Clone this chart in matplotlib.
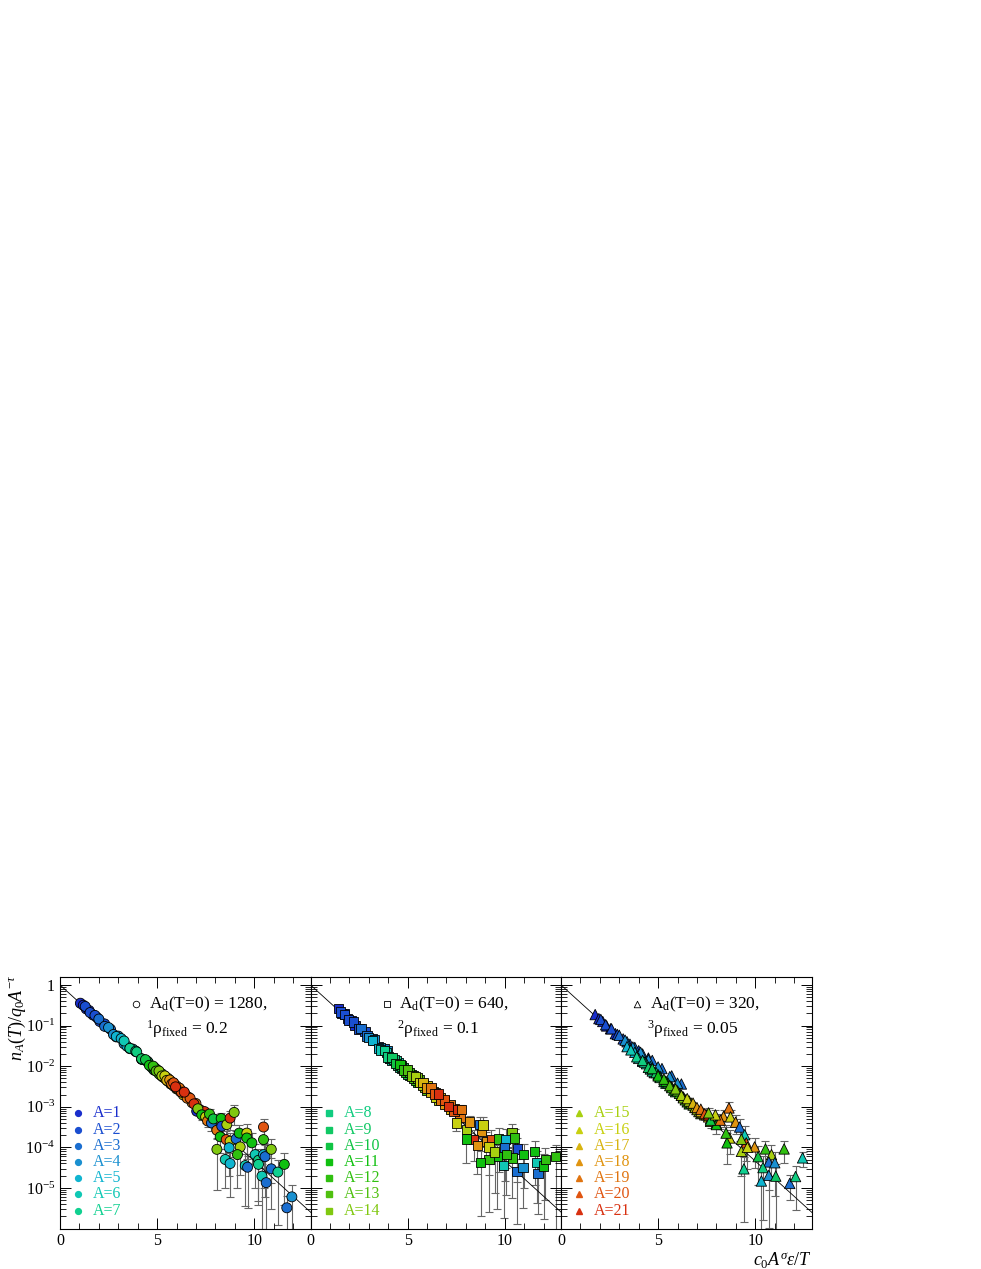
import numpy as np
import matplotlib
matplotlib.use("Agg")
from matplotlib import pyplot as plt
from matplotlib.ticker import MultipleLocator, LogLocator, NullFormatter, FixedLocator

plt.rcParams['font.family'] = ['Liberation Serif', 'DejaVu Serif']
plt.rcParams['mathtext.fontset'] = 'custom'
plt.rcParams['mathtext.rm'] = 'Liberation Serif'
plt.rcParams['mathtext.it'] = 'Liberation Serif:italic'
plt.rcParams['mathtext.bf'] = 'Liberation Serif:bold'

# colours for cluster size A = 1..21
a_colors = ['#1a2ecc', '#1a4ed0', '#1a6ed0', '#1a90d0', '#10b4d0', '#10c8b4', '#10d090',
            '#10cc80', '#10c864', '#10c444', '#10c010', '#30c010', '#50c010', '#80c810',
            '#a8d010', '#c8d010', '#d8b410', '#e09410', '#e07410', '#e05410', '#d83010']

# straight reference line (log scale)
fit_x = [0.0, 13.0]
fit_y = [1.0, 2.3e-6]

# ---- panel 1 : A_d(T=0)=1280, circles ----
p1_band_x = [1.05, 1.2, 1.35, 1.5, 1.7, 1.9, 5.84, 7.04,
             1.3, 1.55, 1.8, 2.05, 2.3,
             2.0, 2.3, 2.6, 2.9,
             2.5, 2.75, 3.0, 3.3,
             2.9, 3.15, 3.45, 3.75,
             3.3, 3.6, 3.9, 4.2,
             3.6, 3.9, 4.2, 4.5,
             3.95, 4.25, 4.55, 4.85,
             4.2, 4.5, 4.8, 5.1,
             4.4, 4.7, 5.0, 5.3,
             4.6, 4.9, 5.2, 5.5,
             4.8, 5.1, 5.4, 5.7,
             4.95, 5.25, 5.55, 5.85,
             5.1, 5.4, 5.7, 6.0,
             5.25, 5.55, 5.85, 6.2,
             5.4, 5.7, 6.0, 6.35,
             5.5, 5.85, 6.2, 6.6,
             5.65, 6.0, 6.4, 6.8,
             5.75, 6.15, 6.55, 7.0,
             5.85, 6.25, 6.7, 7.2,
             5.95, 6.4, 6.9, 7.45]
p1_band_logy = [-0.45, -0.50, -0.59, -0.63, -0.74, -0.80, -2.42, -3.11,
                -0.53, -0.68, -0.75, -0.90, -0.96,
                -0.84, -1.02, -1.09, -1.28,
                -1.05, -1.22, -1.26, -1.45,
                -1.27, -1.32, -1.51, -1.58,
                -1.38, -1.57, -1.64, -1.83,
                -1.56, -1.63, -1.82, -1.89,
                -1.65, -1.84, -1.91, -2.10,
                -1.82, -1.88, -2.07, -2.14,
                -1.84, -2.02, -2.09, -2.27,
                -1.98, -2.05, -2.23, -2.30,
                -2.00, -2.19, -2.25, -2.44,
                -2.12, -2.19, -2.37, -2.44,
                -2.12, -2.30, -2.37, -2.56,
                -2.24, -2.30, -2.49, -2.58,
                -2.24, -2.42, -2.49, -2.71,
                -2.35, -2.43, -2.63, -2.76,
                -2.34, -2.54, -2.66, -2.90,
                -2.44, -2.54, -2.79, -2.92,
                -2.41, -2.64, -2.79, -3.07,
                -2.51, -2.64, -2.93, -3.12]
p1_band_a = [1, 1, 1, 1, 1, 1, 1, 1,
             2, 2, 2, 2, 2,
             3, 3, 3, 3,
             4, 4, 4, 4,
             5, 5, 5, 5,
             6, 6, 6, 6,
             7, 7, 7, 7,
             8, 8, 8, 8,
             9, 9, 9, 9,
             10, 10, 10, 10,
             11, 11, 11, 11,
             12, 12, 12, 12,
             13, 13, 13, 13,
             14, 14, 14, 14,
             15, 15, 15, 15,
             16, 16, 16, 16,
             17, 17, 17, 17,
             18, 18, 18, 18,
             19, 19, 19, 19,
             20, 20, 20, 20,
             21, 21, 21, 21]
p1_err_x = [7.1, 7.3, 7.5, 7.6, 7.7, 7.8, 7.9, 8.08, 8.3, 8.33, 8.59, 8.76, 8.97,
            8.25, 8.56, 8.76, 9.07, 8.08, 8.71, 8.51, 8.76, 9.23, 9.62, 9.62, 9.88,
            9.28, 9.14, 9.54, 9.66, 10.05, 10.22, 10.22, 10.48, 10.48, 10.48, 10.56,
            10.88, 10.88, 10.40, 10.62, 11.22, 11.55, 11.94, 11.68]
p1_err_logy = [-3.05, -3.20, -3.25, -3.35, -3.18, -3.40, -3.30, -3.58, -3.29, -3.48, -3.44,
               -3.28, -3.14, -3.74, -3.81, -3.85, -3.79, -4.05, -4.01, -4.30, -4.40, -3.65,
               -3.65, -3.77, -3.89, -3.99, -4.18, -4.45, -4.49, -4.18, -4.32, -4.42, -3.50,
               -3.81, -4.18, -4.23, -4.05, -4.53, -4.71, -4.87, -4.61, -4.42, -5.22, -5.49]
p1_err_a = [14, 11, 16, 19, 12, 3, 10, 19, 11, 2, 15, 21, 14,
            11, 20, 16, 3, 14, 5, 6, 5, 11, 16, 11, 11,
            15, 12, 6, 3, 6, 8, 7, 20, 12, 5, 3,
            14, 3, 6, 3, 7, 11, 4, 3]
p1_err_rel = [0.2, 0.25, 0.3, 0.3, 0.3, 0.35, 0.35, 0.4, 0.4, 0.45, 0.5, 0.5, 0.5,
              0.6, 0.6, 0.6, 0.6, 0.9, 0.8, 0.8, 0.85, 0.6, 0.7, 0.7, 0.7,
              0.8, 0.85, 0.9, 0.9, 0.85, 0.9, 0.9, 0.6, 0.8, 0.85, 0.9,
              0.85, 0.9, 0.95, 0.95, 0.95, 0.9, 0.95, 0.99]

# ---- panel 2 : A_d(T=0)=640, squares ----
p2_band_x = [1.45, 1.6, 1.75, 1.9, 2.1, 2.3,
             1.55, 1.75, 1.95, 2.2, 2.5, 2.8,
             2.6, 2.9, 3.2, 3.5, 3.8,
             3.0, 3.3, 3.6, 3.95,
             3.2, 3.5, 3.8, 4.1,
             3.6, 3.9, 4.2, 4.5,
             3.8, 4.1, 4.4, 4.7,
             4.0, 4.3, 4.6, 4.9,
             4.2, 4.5, 4.8, 5.1,
             4.4, 4.7, 5.0, 5.3,
             4.6, 4.9, 5.2, 5.5,
             4.8, 5.1, 5.4, 5.8,
             5.0, 5.3, 5.6, 6.0,
             5.2, 5.5, 5.9, 6.3,
             5.4, 5.8, 6.2, 6.6,
             5.6, 6.0, 6.45, 6.9,
             5.8, 6.2, 6.7, 7.2,
             6.0, 6.45, 6.9, 7.4,
             6.2, 6.7, 7.2, 7.7,
             6.4, 6.9, 7.4,
             6.6, 7.1, 7.6]
p2_band_logy = [-0.58, -0.70, -0.72, -0.83, -0.87, -1.00,
                -0.67, -0.73, -0.86, -0.91, -1.09, -1.15,
                -1.07, -1.26, -1.33, -1.52, -1.58,
                -1.29, -1.36, -1.55, -1.62,
                -1.37, -1.56, -1.61, -1.80,
                -1.60, -1.66, -1.86, -1.91,
                -1.62, -1.81, -1.87, -2.05,
                -1.77, -1.83, -2.03, -2.08,
                -1.79, -1.99, -2.04, -2.23,
                -1.94, -2.00, -2.19, -2.24,
                -1.96, -2.15, -2.20, -2.40,
                -2.10, -2.15, -2.35, -2.45,
                -2.10, -2.29, -2.34, -2.59,
                -2.24, -2.29, -2.53, -2.62,
                -2.25, -2.48, -2.58, -2.83,
                -2.40, -2.48, -2.76, -2.86,
                -2.40, -2.64, -2.78, -3.07,
                -2.54, -2.66, -2.94, -3.06,
                -2.54, -2.84, -2.96, -3.26,
                -2.69, -2.83, -3.12,
                -2.69, -2.99, -3.07]
p2_band_a = [1, 1, 1, 1, 1, 1,
             2, 2, 2, 2, 2, 2,
             3, 3, 3, 3, 3,
             4, 4, 4, 4,
             5, 5, 5, 5,
             6, 6, 6, 6,
             7, 7, 7, 7,
             8, 8, 8, 8,
             9, 9, 9, 9,
             10, 10, 10, 10,
             11, 11, 11, 11,
             12, 12, 12, 12,
             13, 13, 13, 13,
             14, 14, 14, 14,
             15, 15, 15, 15,
             16, 16, 16, 16,
             17, 17, 17, 17,
             18, 18, 18, 18,
             19, 19, 19, 19,
             20, 20, 20,
             21, 21, 21]
p2_err_x = [7.77, 8.02, 7.51, 8.20, 8.80, 8.40, 9.06, 9.31, 8.59, 9.19, 8.02, 8.71, 8.88,
            9.69, 10.38, 10.52, 10.05, 10.00, 10.65, 10.98, 10.40, 10.09, 9.60, 9.19,
            8.76, 9.95, 9.48, 10.64, 10.94, 11.55, 11.67, 11.72, 12.01, 12.10, 12.63]
p2_err_logy = [-3.07, -3.56, -3.40, -3.38, -3.60, -3.81, -3.85, -3.81, -3.96, -3.99, -3.79,
               -3.44, -3.45, -3.79, -3.63, -3.77, -3.81, -4.01, -4.04, -4.18, -4.26, -4.18,
               -4.23, -4.30, -4.38, -4.45, -4.12, -4.59, -4.50, -4.10, -4.38, -4.65, -4.46,
               -4.30, -4.23]
p2_err_a = [19, 15, 16, 18, 18, 21, 18, 20, 18, 16, 11, 3, 16,
            12, 14, 12, 5, 3, 2, 11, 12, 12, 11, 12,
            11, 6, 15, 3, 4, 11, 6, 3, 11, 12, 12]
p2_err_rel = [0.3, 0.45, 0.35, 0.45, 0.6, 0.7, 0.7, 0.75, 0.8, 0.8, 0.75, 0.5, 0.55,
              0.85, 0.6, 0.7, 0.8, 0.85, 0.85, 0.85, 0.9, 0.9, 0.95, 0.95,
              0.95, 0.95, 0.9, 0.95, 0.9, 0.85, 0.9, 0.9, 0.95, 0.9, 0.99]

# ---- panel 3 : A_d(T=0)=320, triangles ----
p3_band_x = [1.76, 1.95, 2.15, 2.35, 2.55, 2.8,
             2.05, 2.3, 2.6, 2.9, 3.2, 3.55, 4.0, 4.5,
             3.0, 3.4, 3.8, 4.2, 4.7, 5.2, 5.7, 6.2,
             3.3, 3.7, 4.1, 4.5, 5.0, 5.6, 6.0,
             3.4, 3.8, 4.2, 4.6,
             3.6, 4.0, 4.4, 4.8,
             3.9, 4.3, 4.7, 5.1,
             4.2, 4.6, 5.0, 5.4,
             4.5, 4.9, 5.3, 5.7,
             4.7, 5.1, 5.5, 5.9, 6.3,
             5.0, 5.4, 5.8, 6.2, 6.6,
             5.3, 5.7, 6.1, 6.5, 6.9,
             5.6, 6.0, 6.4, 6.8, 7.2,
             5.9, 6.3, 6.7, 7.1,
             6.2, 6.6, 7.0, 7.4,
             6.5, 6.9, 7.3, 7.7,
             6.8, 7.2, 7.6,
             7.0, 7.5, 8.0,
             7.2, 7.7,
             7.4,
             7.6]
p3_band_logy = [-0.73, -0.83, -0.90, -1.01, -1.08, -1.20,
                -0.85, -0.98, -1.08, -1.22, -1.33, -1.46, -1.62, -1.80,
                -1.24, -1.40, -1.54, -1.70, -1.86, -2.06, -2.24, -2.44,
                -1.36, -1.53, -1.66, -1.84, -2.02, -2.26, -2.42,
                -1.52, -1.66, -1.88, -2.01,
                -1.60, -1.81, -1.94, -2.16,
                -1.77, -1.90, -2.12, -2.25,
                -1.86, -2.07, -2.21, -2.42,
                -2.03, -2.16, -2.38, -2.51,
                -2.06, -2.28, -2.41, -2.63, -2.76,
                -2.24, -2.37, -2.59, -2.72, -2.93,
                -2.32, -2.53, -2.67, -2.88, -3.01,
                -2.48, -2.61, -2.83, -2.96, -3.17,
                -2.56, -2.78, -2.91, -3.12,
                -2.72, -2.86, -3.07, -3.20,
                -2.80, -3.02, -3.15, -3.36,
                -2.91, -3.12, -3.25,
                -3.02, -3.20, -3.42,
                -3.06, -3.30,
                -3.17,
                -3.20]
p3_band_a = [1, 1, 1, 1, 1, 1,
             2, 2, 2, 2, 2, 2, 2, 2,
             3, 3, 3, 3, 3, 3, 3, 3,
             4, 4, 4, 4, 4, 4, 4,
             5, 5, 5, 5,
             6, 6, 6, 6,
             7, 7, 7, 7,
             8, 8, 8, 8,
             9, 9, 9, 9,
             10, 10, 10, 10, 10,
             11, 11, 11, 11, 11,
             12, 12, 12, 12, 12,
             13, 13, 13, 13, 13,
             14, 14, 14, 14,
             15, 15, 15, 15,
             16, 16, 16, 16,
             17, 17, 17,
             18, 18, 18,
             19, 19,
             20,
             21]
p3_err_x = [8.65, 8.37, 8.73, 8.99, 9.20, 9.46, 9.54, 9.97, 9.29, 9.60, 10.15, 10.53,
            10.84, 11.49, 10.70, 11.01, 10.40, 10.70, 11.06, 10.32, 9.42, 11.78, 12.08,
            12.44, 8.68, 8.55, 9.29, 8.50, 8.00, 7.70, 8.20, 7.95, 7.60]
p3_err_logy = [-3.03, -3.24, -3.25, -3.38, -3.50, -3.69, -3.89, -3.99, -4.10, -4.00, -4.23,
               -4.04, -4.18, -4.04, -4.36, -4.38, -4.50, -4.69, -4.71, -4.83, -4.53, -4.89,
               -4.72, -4.26, -3.77, -3.89, -3.80, -3.65, -3.44, -3.33, -3.33, -3.20, -3.15]
p3_err_a = [19, 18, 16, 18, 3, 6, 20, 18, 15, 16, 10, 12,
            15, 12, 3, 4, 8, 4, 9, 5, 7, 3, 8,
            6, 16, 11, 14, 12, 11, 10, 19, 16, 14]
p3_err_rel = [0.4, 0.45, 0.45, 0.5, 0.55, 0.6, 0.65, 0.7, 0.75, 0.7, 0.8, 0.6,
              0.7, 0.55, 0.8, 0.85, 0.95, 0.95, 0.97, 0.99, 0.95, 0.6, 0.85,
              0.4, 0.6, 0.7, 0.6, 0.55, 0.4, 0.35, 0.4, 0.35, 0.3]

panel_labels = ['A$_{\\mathrm{d}}$(T=0) = 1280,', 'A$_{\\mathrm{d}}$(T=0) = 640,',
                'A$_{\\mathrm{d}}$(T=0) = 320,']
panel_rho = ['$^{1}$\u03c1$_{\\mathrm{fixed}}$ = 0.2', '$^{2}$\u03c1$_{\\mathrm{fixed}}$ = 0.1',
             '$^{3}$\u03c1$_{\\mathrm{fixed}}$ = 0.05']
legend_a = [[1, 2, 3, 4, 5, 6, 7], [8, 9, 10, 11, 12, 13, 14], [15, 16, 17, 18, 19, 20, 21]]
markers = ['o', 's', '^']
msizes = [52, 46, 56]

panels = [
    (p1_band_x, p1_band_logy, p1_band_a, p1_err_x, p1_err_logy, p1_err_a, p1_err_rel),
    (p2_band_x, p2_band_logy, p2_band_a, p2_err_x, p2_err_logy, p2_err_a, p2_err_rel),
    (p3_band_x, p3_band_logy, p3_band_a, p3_err_x, p3_err_logy, p3_err_a, p3_err_rel),
]

fig = plt.figure(figsize=(9.81, 12.69), dpi=100)
W = 1.0 / 981
H = 1.0 / 1269
lefts = [60, 310.5, 561]
axes = []
for i in range(3):
    ax = fig.add_axes([lefts[i] * W, 1 - 1228.5 * H, 250.5 * W, 251.5 * H])
    axes.append(ax)

for i, ax in enumerate(axes):
    bx, blogy, ba, ex, elogy, ea, erel = panels[i]
    by = 10 ** np.array(blogy)
    ey = 10 ** np.array(elogy)
    eerr = np.array(erel) * ey

    ax.plot(fit_x, fit_y, color='black', lw=0.6, zorder=2)
    ax.errorbar(ex, ey, yerr=eerr, fmt='none', ecolor='0.4', elinewidth=0.8,
                capsize=3.2, capthick=0.8, zorder=1)
    ax.scatter(bx, by, c=[a_colors[a - 1] for a in ba], marker=markers[i], s=msizes[i],
               edgecolors='black', linewidths=0.6, zorder=3)
    ax.scatter(ex, ey, c=[a_colors[a - 1] for a in ea], marker=markers[i], s=msizes[i],
               edgecolors='black', linewidths=0.6, zorder=4)

    ax.set_yscale('log')
    ax.set_xlim(0, 12.9)
    ax.set_ylim(1e-6, 1.57)
    ax.xaxis.set_major_locator(MultipleLocator(5))
    ax.xaxis.set_minor_locator(MultipleLocator(1))
    ax.yaxis.set_major_locator(FixedLocator([1e-6, 1e-5, 1e-4, 1e-3, 1e-2, 1e-1, 1]))
    ax.yaxis.set_minor_locator(LogLocator(base=10, subs=np.arange(2, 10)))
    ax.yaxis.set_minor_formatter(NullFormatter())
    ax.tick_params(which='both', direction='in', top=True, right=True, labelsize=11.5)
    ax.tick_params(which='major', length=8, width=0.7)
    ax.tick_params(which='minor', length=4, width=0.6)
    ax.tick_params(axis='x', pad=3)
    for sp in ax.spines.values():
        sp.set_linewidth(0.8)
    if i == 0:
        ax.set_yticklabels(['', '$10^{-5}$', '$10^{-4}$', '$10^{-3}$', '$10^{-2}$',
                            '$10^{-1}$', '1'])
    else:
        ax.set_yticklabels([])

    # panel header
    ax.scatter([0.305], [0.893], marker=markers[i], s=22, facecolors='white',
               edgecolors='black', linewidths=0.6, transform=ax.transAxes, zorder=5)
    ax.text(0.355, 0.893, panel_labels[i], transform=ax.transAxes, fontsize=12.5,
            va='center', ha='left')
    ax.text(0.345, 0.795, panel_rho[i], transform=ax.transAxes, fontsize=12.5,
            va='center', ha='left')

    # colour legend
    for k, a in enumerate(legend_a[i]):
        yy = 0.458 - k * 0.0645
        ax.plot([0.073], [yy], marker=markers[i], ms=4.2, color=a_colors[a - 1],
                mec=a_colors[a - 1], transform=ax.transAxes, zorder=5)
        ax.text(0.133, yy, 'A=%d' % a, color=a_colors[a - 1], transform=ax.transAxes,
                fontsize=11.5, va='center', ha='left')

fig.text(17 * W, 1 - 975 * H, '$n_{A}(T)/q_{0}A^{-\\tau}$', rotation=90, fontsize=13,
         ha='center', va='top')
fig.text(812 * W, 1 - 1250 * H, '$c_{0}A^{\\sigma}\\varepsilon/T$', fontsize=13,
         ha='right', va='top')

fig.savefig('out.png', dpi=100)
